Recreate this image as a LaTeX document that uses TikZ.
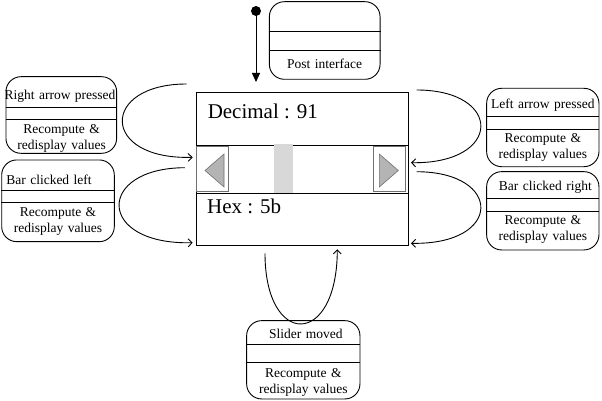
\documentclass[tikz,border=0pt]{standalone}
\usepackage{fontspec}
\setmainfont{Liberation Serif}
\usepackage{xcolor}
\usetikzlibrary{arrows.meta}

\definecolor{btnline}{HTML}{707070}
\definecolor{btnfill}{HTML}{B4B4B4}
\definecolor{thumbfill}{HTML}{D8D8D8}

\begin{document}
\begin{tikzpicture}[x=1pt,y=-1pt,line width=0.9pt,font=\fontsize{13.5}{16}\selectfont]
    \tikzstyle{state}=[draw,rounded corners=15pt,inner sep=0pt]
    \tikzstyle{lbl}=[text width=4.4cm,align=center,inner sep=0pt]
    \tikzstyle{big}=[font=\fontsize{21}{24}\selectfont,anchor=base west,inner sep=0pt]
    \tikzstyle{btn}=[draw=btnline,inner sep=0pt,minimum width=32pt,minimum height=45.7pt]
    \tikzstyle{btnarrow}=[fill=btnfill,draw=btnline,line width=0.6pt]
    \tikzstyle{loop}=[-{Straight Barb[length=4pt,width=8pt]}]
    \useasboundingbox (0,0) rectangle (602,401);

    % main window
    \node[draw,inner sep=0pt,minimum width=211.6pt,minimum height=152.7pt] (main) at (302.5,168.65) {};
    \draw (main.west |- 0,145.3) -- (main.east |- 0,145.3);
    \draw (main.west |- 0,193.3) -- (main.east |- 0,193.3);
    \node[big] (dec) at (207.3,118) {Decimal : 91};
    \node[big] (hex) at (206.7,213.3) {Hex : 5b};
    \node[btn] (lbtn) at (212.7,168.85) {};
    \node[btn] (rbtn) at (389.5,168.85) {};
    \filldraw[btnarrow] (205,170.5) -- (224,154) -- (224,187) -- cycle;
    \filldraw[btnarrow] (398.3,170.5) -- (379.3,154) -- (379.3,187) -- cycle;
    \fill[thumbfill] (274,144) rectangle (293,193.3);

    % initial state
    \fill (256,11) circle (5pt);
    \coordinate (start) at (256,11);
    \coordinate (init) at (256,82);
    \draw[-{Triangle[length=9pt,width=8pt]}] (start) -- (init);

    % states
    \node[state,minimum width=110.7pt,minimum height=77.6pt] (post) at (324.7,40.5) {};
    \node[state,minimum width=110.7pt,minimum height=76.6pt] (rap) at (61.3,115) {};
    \node[state,minimum width=112.6pt,minimum height=81.7pt] (bcl) at (58,200.8) {};
    \node[state,minimum width=112.3pt,minimum height=78.4pt] (lap) at (542.8,127.5) {};
    \node[state,minimum width=112.3pt,minimum height=78.3pt] (bcr) at (542.8,210.8) {};
    \node[state,minimum width=113.3pt,minimum height=78.3pt] (slm) at (303.3,359.8) {};

    \draw (post.west |- 0,31.7) -- (post.east |- 0,31.7);
    \draw (post.west |- 0,50) -- (post.east |- 0,50);
    \draw (rap.west |- 0,107.3) -- (rap.east |- 0,107.3);
    \draw (rap.west |- 0,119.3) -- (rap.east |- 0,119.3);
    \draw (bcl.west |- 0,190.7) -- (bcl.east |- 0,190.7);
    \draw (bcl.west |- 0,202.7) -- (bcl.east |- 0,202.7);
    \draw (lap.west |- 0,116.7) -- (lap.east |- 0,116.7);
    \draw (lap.west |- 0,129.3) -- (lap.east |- 0,129.3);
    \draw (bcr.west |- 0,198.3) -- (bcr.east |- 0,198.3);
    \draw (bcr.west |- 0,211) -- (bcr.east |- 0,211);
    \draw (slm.west |- 0,344.3) -- (slm.east |- 0,344.3);
    \draw (slm.west |- 0,362.7) -- (slm.east |- 0,362.7);

    \node[lbl] (postact) at (324.7,64) {Post interface};
    \node[lbl] (raptitle) at (60,96) {Right arrow pressed};
    \node[lbl] (rapact) at (61.7,138) {Recompute \&\\redisplay values};
    \node[lbl] (bcltitle) at (49,180) {Bar clicked left};
    \node[lbl] (bclact) at (58,221) {Recompute \&\\redisplay values};
    \node[lbl] (laptitle) at (542.8,105) {Left arrow pressed};
    \node[lbl] (lapact) at (542.8,147.5) {Recompute \&\\redisplay values};
    \node[lbl] (bcrtitle) at (545.3,187.3) {Bar clicked right};
    \node[lbl] (bcract) at (542.8,229.2) {Recompute \&\\redisplay values};
    \node[lbl] (slmtitle) at (305.8,334) {Slider moved};
    \node[lbl] (slmact) at (303.3,382.2) {Recompute \&\\redisplay values};

    % self transitions
    \coordinate (rapin) at (186.7,84);
    \coordinate (rapout) at (192.7,157.3);
    \coordinate (bclin) at (185,167.7);
    \coordinate (bclout) at (192.7,242.7);
    \coordinate (lapin) at (416.7,90);
    \coordinate (lapout) at (411,162.7);
    \coordinate (bcrin) at (416.7,171.7);
    \coordinate (bcrout) at (411,243.3);
    \coordinate (slmin) at (265,253.3);
    \coordinate (slmout) at (337.3,249.3);

    \draw[loop] (rapin) .. controls (100,84) and (100,160) .. (rapout);
    \draw[loop] (bclin) .. controls (96,168) and (96,245) .. (bclout);
    \draw[loop] (lapin) .. controls (503,90) and (503,164) .. (lapout);
    \draw[loop] (bcrin) .. controls (503,172) and (503,245) .. (bcrout);
    \draw[loop] (slmin) .. controls (265,348) and (337,348) .. (slmout);
\end{tikzpicture}
\end{document}
